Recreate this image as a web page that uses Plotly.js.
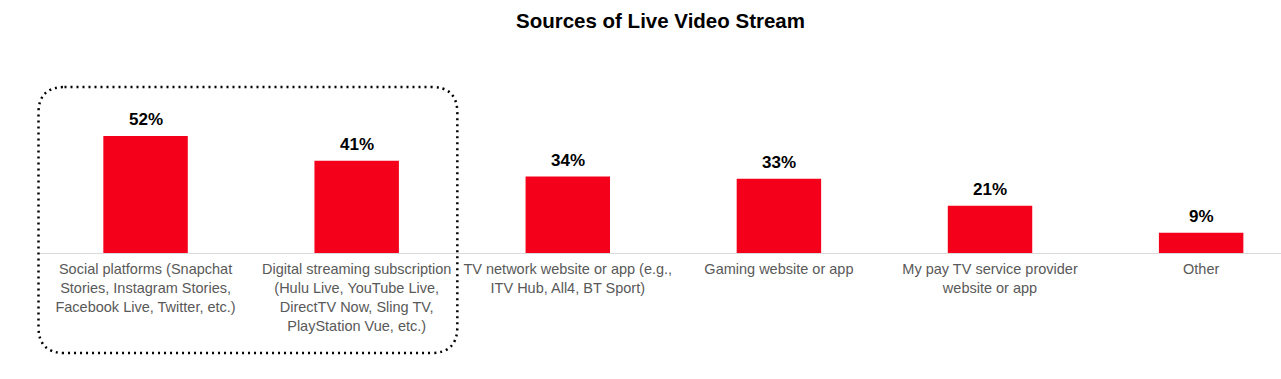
<!DOCTYPE html>
<html>
<head>
<meta charset="utf-8">
<script src="https://cdn.plot.ly/plotly-3.0.1.min.js"></script>
<style>html,body{margin:0;padding:0;background:#fff;}#chart{width:1281px;height:379px;}</style>
</head>
<body>
<div id="chart"></div>
<script>
const categories = [
  "Social platforms (Snapchat<br>Stories, Instagram Stories,<br>Facebook Live, Twitter, etc.)",
  "Digital streaming subscription<br>(Hulu Live, YouTube Live,<br>DirectTV Now, Sling TV,<br>PlayStation Vue, etc.)",
  "TV network website or app (e.g.,<br>ITV Hub, All4, BT Sport)",
  "Gaming website or app",
  "My pay TV service provider<br>website or app",
  "Other"
];
const values = [52, 41, 34, 33, 21, 9];
const valueLabels = values.map(v => v + "%");

const idx = categories.map((_, i) => i);
const font = "Liberation Sans, Arial, Helvetica, sans-serif";

// plot area geometry (pixels) used to place the dotted highlight box
const L = 39.5, R = 1281, T = 118, B = 253;
const W = R - L, H = B - T;
const px = x => (x - L) / W;
const py = y => (B - y) / H;
const bx0 = 38, bx1 = 457, by0 = 87, by1 = 353, rad = 26;
const rx = rad / W, ry = rad / H;
const X0 = px(bx0), X1 = px(bx1), Y0 = py(by0), Y1 = py(by1);
const path = `M ${X0 + rx},${Y0} L ${X1 - rx},${Y0} Q ${X1},${Y0} ${X1},${Y0 - ry} ` +
  `L ${X1},${Y1 + ry} Q ${X1},${Y1} ${X1 - rx},${Y1} L ${X0 + rx},${Y1} ` +
  `Q ${X0},${Y1} ${X0},${Y1 + ry} L ${X0},${Y0 - ry} Q ${X0},${Y0} ${X0 + rx},${Y0} Z`;

const trace = {
  type: "bar",
  x: idx,
  y: values,
  width: 0.4,
  marker: { color: "#f5001a" },
  hoverinfo: "skip"
};

const annotations = idx.map(i => ({
  x: i, y: values[i], xref: "x", yref: "y",
  text: valueLabels[i],
  showarrow: false,
  yanchor: "bottom",
  yshift: 5,
  font: { family: font, size: 17, color: "#000", weight: "bold" }
}));

const layout = {
  width: 1281,
  height: 379,
  margin: { l: L, r: 0, t: T, b: 379 - B, pad: 0 },
  paper_bgcolor: "#fff",
  plot_bgcolor: "#fff",
  showlegend: false,
  title: {
    text: "<b>Sources of Live Video Stream</b>",
    font: { family: font, size: 20.5, color: "#000" },
    x: 0.5, xref: "paper",
    y: 1 - 21 / 379, yref: "container", yanchor: "middle"
  },
  xaxis: {
    range: [-0.5, -0.5 + W / 211.2],
    tickmode: "array",
    tickvals: idx,
    ticktext: categories,
    tickfont: { family: font, size: 14.5, color: "#595959" },
    ticklabelstandoff: 3,
    showgrid: false,
    zeroline: false,
    showline: true,
    linecolor: "#d9d9d9",
    linewidth: 1,
    ticks: "",
    fixedrange: true
  },
  yaxis: {
    range: [0, 60],
    visible: false,
    showgrid: false,
    zeroline: false,
    fixedrange: true
  },
  annotations: annotations,
  shapes: [{
    type: "path",
    xref: "paper",
    yref: "paper",
    path: path,
    line: { color: "#000", width: 2.5, dash: "2px,4px" }
  }]
};

Plotly.newPlot("chart", [trace], layout, { displayModeBar: false, staticPlot: true });
</script>
</body>
</html>
